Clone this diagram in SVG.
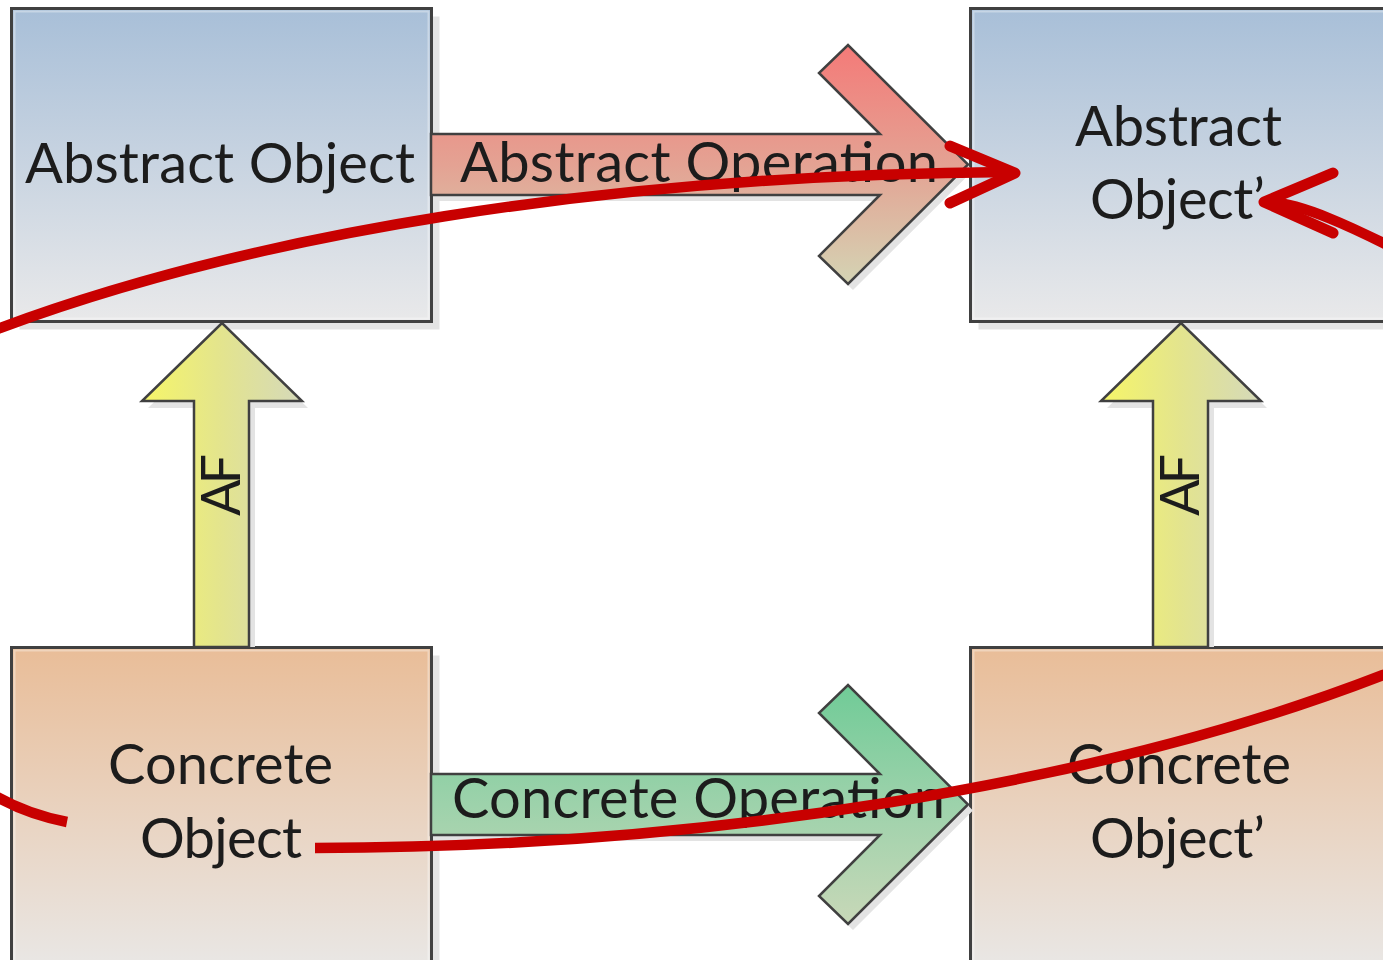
<svg xmlns="http://www.w3.org/2000/svg" width="1383" height="960" viewBox="0 0 1383 960">
  <defs>
    <linearGradient id="gAbstract" x1="0" y1="0" x2="0" y2="1">
      <stop offset="0" stop-color="#a8bfd8"/>
      <stop offset="1" stop-color="#e9e9ea"/>
    </linearGradient>
    <linearGradient id="gConcrete" x1="0" y1="0" x2="0" y2="1">
      <stop offset="0" stop-color="#e9bd98"/>
      <stop offset="1" stop-color="#e9e7e5"/>
    </linearGradient>
    <linearGradient id="gOpRed" x1="0" y1="0" x2="0" y2="1">
      <stop offset="0" stop-color="#f47a78"/>
      <stop offset="0.5" stop-color="#e4a293"/>
      <stop offset="1" stop-color="#d4d4b4"/>
    </linearGradient>
    <linearGradient id="gOpGreen" x1="0" y1="0" x2="0" y2="1">
      <stop offset="0" stop-color="#70cb97"/>
      <stop offset="0.5" stop-color="#9dd2ab"/>
      <stop offset="1" stop-color="#c8d8b8"/>
    </linearGradient>
    <linearGradient id="gAF" x1="0" y1="0" x2="1" y2="0">
      <stop offset="0" stop-color="#f6f668"/>
      <stop offset="0.5" stop-color="#e3e48e"/>
      <stop offset="1" stop-color="#d5d9ba"/>
    </linearGradient>
  </defs>
  <style>
    .box { stroke: #404040; stroke-width: 3; }
    .inner { fill: none; stroke: #ffffff; stroke-opacity: 0.35; stroke-width: 2; }
    .shadow { fill: #e3e3e3; }
    .arrow { stroke: #404040; stroke-width: 2.5; stroke-linejoin: miter; }
    .lbl { font-family: Lato, "Open Sans", "Liberation Sans", sans-serif; font-size: 56px; fill: #1c1c1c; }
    .af { font-family: Lato, "Open Sans", "Liberation Sans", sans-serif; font-size: 54px; fill: #1c1c1c; }
    .red { fill: none; stroke: #c80000; stroke-width: 10.5; }
    .head { fill: none; stroke: #c80000; stroke-width: 11; stroke-linecap: round; stroke-linejoin: round; }
  </style>

  <rect width="1383" height="960" fill="#ffffff"/>

  <!-- nodes -->
  <g id="abstract-object">
    <rect class="shadow" x="19.5" y="16.5" width="420" height="313"/>
    <rect class="box" x="11.5" y="8.5" width="420" height="313" fill="url(#gAbstract)"/>
    <rect class="inner" x="14.5" y="11.5" width="414" height="307"/>
    <text class="lbl" x="25" y="183" textLength="390">Abstract Object</text>
  </g>

  <g id="abstract-object-prime">
    <rect class="shadow" x="978.5" y="16.5" width="420" height="313"/>
    <rect class="box" x="970.5" y="8.5" width="430" height="313" fill="url(#gAbstract)"/>
    <rect class="inner" x="973.5" y="11.5" width="424" height="307"/>
    <text class="lbl" x="1075" y="146" textLength="207">Abstract</text>
    <text class="lbl" x="1090" y="219" textLength="175">Object’</text>
  </g>

  <g id="concrete-object">
    <rect class="shadow" x="19.5" y="655.5" width="420" height="313"/>
    <rect class="box" x="11.5" y="647.5" width="420" height="320" fill="url(#gConcrete)"/>
    <rect class="inner" x="14.5" y="650.5" width="414" height="314"/>
    <text class="lbl" x="108" y="784" textLength="225">Concrete</text>
    <text class="lbl" x="140" y="858" textLength="162">Object</text>
  </g>

  <g id="concrete-object-prime">
    <rect class="box" x="970.5" y="647.5" width="430" height="320" fill="url(#gConcrete)"/>
    <rect class="inner" x="973.5" y="650.5" width="424" height="314"/>
    <text class="lbl" x="1067" y="784" textLength="224">Concrete</text>
    <text class="lbl" x="1090" y="858" textLength="175">Object’</text>
  </g>

  <!-- connectors -->
  <g id="connectors">
    <!-- abstract operation -->
    <g id="abstract-operation">
      <polygon class="shadow" transform="translate(5,6)" points="431,134 880,134 819,73 848,45 968,164.5 848,284 819,256 880,195 431,195"/>
      <polygon class="arrow" fill="url(#gOpRed)" points="431,134 880,134 819,73 848,45 968,164.5 848,284 819,256 880,195 431,195"/>
      <text class="lbl" x="460" y="182" textLength="478">Abstract Operation</text>
    </g>

    <!-- concrete operation -->
    <g id="concrete-operation">
      <polygon class="shadow" transform="translate(5,6)" points="431,774 880,774 819,713 848,685 968,804.5 848,924 819,896 880,835 431,835"/>
      <polygon class="arrow" fill="url(#gOpGreen)" points="431,774 880,774 819,713 848,685 968,804.5 848,924 819,896 880,835 431,835"/>
      <text class="lbl" x="452" y="818" textLength="493">Concrete Operation</text>
    </g>

    <!-- abstraction function, left -->
    <g id="af-left">
      <polygon class="shadow" transform="translate(6,7)" points="194,640 194,401 142,401 222,323 302,401 249,401 249,640"/>
      <polygon class="arrow" fill="url(#gAF)" points="194,647 194,401 142,401 222,323 302,401 249,401 249,647"/>
      <text class="af" transform="translate(240,516) rotate(-90)" textLength="62">AF</text>
    </g>

    <!-- abstraction function, right -->
    <g id="af-right">
      <polygon class="shadow" transform="translate(6,7)" points="1153,640 1153,401 1101,401 1181,323 1261,401 1208,401 1208,640"/>
      <polygon class="arrow" fill="url(#gAF)" points="1153,647 1153,401 1101,401 1181,323 1261,401 1208,401 1208,647"/>
      <text class="af" transform="translate(1199,516) rotate(-90)" textLength="62">AF</text>
    </g>

    <!-- red path: concrete object, round the left, to abstract object' -->
    <path class="red" d="M67,822 C-200,770 -120,373 0,328 C250,235 600,175 1008,172"/>
    <polyline class="head" points="950,146 1015,173 950,203"/>

    <!-- red path: concrete object, across to the right, back up to abstract object' -->
    <path class="red" d="M315,848 C700,848 1100,785 1383,675 C1600,595 1560,300 1420,262 C1350,225 1300,203 1268,202"/>
    <polyline class="head" points="1333,173 1264,202 1333,233"/>
  </g>
</svg>
